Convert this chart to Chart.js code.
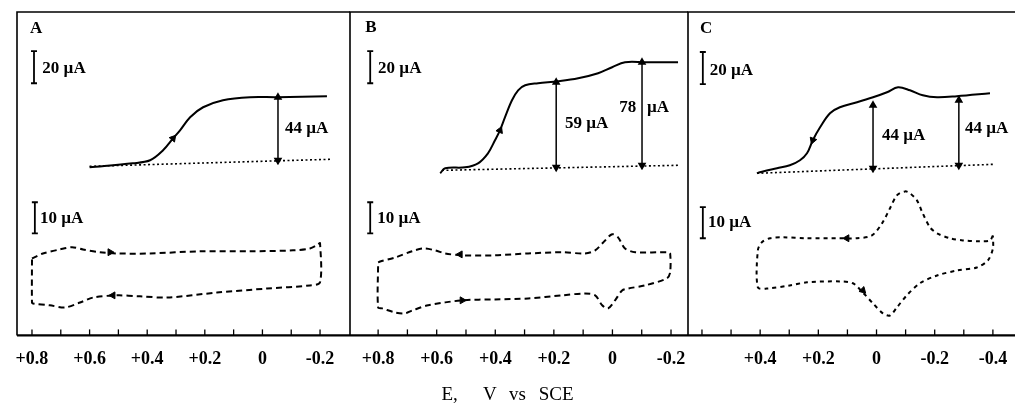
<!DOCTYPE html>
<html><head><meta charset="utf-8">
<script src="https://cdn.jsdelivr.net/npm/chart.js@4"></script>
<style>
html,body{margin:0;padding:0;background:#fff;}
#wrap{position:relative;width:1015px;height:419px;overflow:hidden;background:#fff;}
#wrap canvas{position:absolute;left:0;top:0;}
#xtitle{position:absolute;left:0;width:1015px;top:383px;text-align:center;font-family:"Liberation Serif",serif;font-size:19px;word-spacing:8px;color:#000;white-space:pre;}
</style></head>
<body>
<div id="wrap">
<canvas id="pa" width="1015" height="419"></canvas>
<canvas id="pb" width="1015" height="419"></canvas>
<canvas id="pc" width="1045" height="419"></canvas>
<div id="xtitle">E,  V vs SCE</div>
</div>
<script>
// ---------- Panel A ----------
const aWaveE = [0.60, 0.45, 0.39, 0.345, 0.31, 0.286, 0.251, 0.206, 0.137, 0.043, -0.051, -0.224];
const aWaveI = [0, 2.5, 4.4, 10.6, 18.1, 23.1, 31.3, 37.5, 41.9, 43.8, 43.8, 44.4];
const aBaseE = [0.60, -0.235];
const aBaseI = [0.6, 5];
const aCvE = [0.80, 0.762, 0.703, 0.661, 0.623, 0.564, 0.505, 0.39, 0.217, 0.043, -0.106, -0.165, -0.193, -0.20,
              -0.20, -0.165, -0.016, 0.158, 0.331, 0.425, 0.505, 0.588, 0.633, 0.685, 0.738, 0.797, 0.80, 0.80];
const aCvI = [4.5, 6.1, 7.4, 8.1, 7.4, 6.5, 6.1, 6.1, 6.8, 6.8, 7.1, 7.7, 9.0, 9.4,
              -3.2, -4.2, -5.2, -6.5, -8.1, -7.7, -7.4, -8.1, -9.7, -11.3, -10.6, -10.0, -9.7, 4.5];
const aHeightE = [-0.054];
const aHeightTop = [43.75];
const aHeightBot = [4.4];
const aWaveArrowE = [0.31], aWaveArrowI = [18.1], aWaveArrowRot = [40];
const aCvArrowE = [0.529, 0.519], aCvArrowI = [6.5, -7.4], aCvArrowRot = [90, 270];

// ---------- Panel B ----------
const bWaveE = [0.588, 0.571, 0.503, 0.459, 0.425, 0.401, 0.384, 0.367, 0.343, 0.322, 0.298, 0.254, 0.186, 0.117, 0.049, 0.001, -0.043, -0.111, -0.224];
const bWaveI = [-3.75, -0.6, 0, 2.5, 8.75, 16.9, 23.1, 31.25, 41.9, 48.1, 51.25, 52.5, 53.75, 55.6, 58.75, 62.5, 65.6, 65.6, 65.6];
const bBaseE = [0.582, -0.224];
const bBaseI = [-1.9, 1.25];
const bCvE = [0.800, 0.793, 0.742, 0.684, 0.646, 0.605, 0.571, 0.513, 0.401, 0.288, 0.172, 0.094, 0.059, 0.025, 0.001, -0.019, -0.043, -0.078, -0.190, -0.197,
              -0.197, -0.186, -0.111, -0.053, -0.033, -0.009, 0.015, 0.035, 0.059, 0.094, 0.172, 0.288, 0.401, 0.513, 0.629, 0.684, 0.708, 0.742, 0.786, 0.800, 0.800];
const bCvI = [3.2, 3.5, 4.8, 6.8, 7.7, 7.1, 6.1, 5.5, 5.5, 6.1, 6.5, 6.1, 7.1, 10.3, 12.3, 11.3, 7.7, 6.5, 6.5, 6.1,
              0, -1.9, -4.2, -5.2, -5.8, -9.0, -11.6, -10.6, -7.4, -6.8, -7.4, -8.4, -8.7, -9.0, -10.6, -12.3, -13.2, -12.9, -11.6, -11.3, 3.2];
const bHeightE = [0.192, -0.101];
const bHeightTop = [53.1, 65.6];
const bHeightBot = [0, 1.25];
const bWaveArrowE = [0.384], bWaveArrowI = [23.1], bWaveArrowRot = [23];
const bCvArrowE = [0.520, 0.513], bCvArrowI = [5.8, -9.0], bCvArrowRot = [270, 90];

// ---------- Panel C ----------
const cWaveE = [0.411, 0.401, 0.342, 0.298, 0.263, 0.239, 0.219, 0.194, 0.160, 0.126, 0.067, 0.012, -0.036, -0.074, -0.115, -0.159, -0.208, -0.276, -0.390];
const cWaveI = [-3.75, -3.1, -0.6, 1.25, 4.4, 8.75, 16.9, 25, 33.75, 37.5, 40.6, 43.75, 46.9, 50, 48.1, 45, 43.75, 44.4, 46.25];
const cBaseE = [0.411, -0.407];
const cBaseI = [-3.75, 1.9];
const cCvE = [-0.400, -0.390, -0.355, -0.297, -0.252, -0.208, -0.184, -0.159, -0.139, -0.115, -0.098, -0.070, -0.046, -0.019, 0.016, 0.067, 0.126, 0.239, 0.322, 0.366, 0.394, 0.408,
              0.408, 0.377, 0.298, 0.239, 0.126, 0.081, 0.047, 0.012, -0.022, -0.046, -0.070, -0.104, -0.149, -0.208, -0.276, -0.345, -0.383, -0.400, -0.400];
const cCvI = [11.9, 10.3, 10, 10.3, 11, 12.6, 14.5, 19, 23.2, 25.5, 26.1, 24.8, 20.6, 15.8, 11.9, 11, 11, 11, 11.3, 11, 9.7, 7.1,
              -4.8, -5.2, -4.2, -3.2, -2.9, -3.5, -6.5, -10, -13.2, -13.9, -11.3, -7.4, -3.5, -1, 0.6, 1.6, 3.9, 7.7, 11.9];
const cHeightE = [0.012, -0.283];
const cHeightTop = [38.75, 41.9];
const cHeightBot = [-0.6, 1.25];
const cWaveArrowE = [0.219], cWaveArrowI = [16.9], cWaveArrowRot = [200];
const cCvArrowE = [0.102, 0.047], cCvArrowI = [11, -5.8], cCvArrowRot = [270, 135];

// Scale bars (µA)
const waveBarUA = 20;
const cvBarUA = 10;

const SERIF = '"Liberation Serif", "Times New Roman", serif';
Chart.defaults.font.family = SERIF;
Chart.defaults.color = '#000';

function pts(xs, ys) { return xs.map((x, i) => ({ x: x, y: ys[i] })); }

const decor = {
  id: 'decor',
  afterDatasetsDraw(chart, args, opts) {
    const ctx = chart.ctx, ca = chart.chartArea, xs = chart.scales.x;
    ctx.save();
    ctx.strokeStyle = '#000';
    ctx.lineCap = 'butt';
    ctx.lineWidth = 1.6;
    ctx.beginPath();
    ctx.moveTo(ca.left, ca.bottom); ctx.lineTo(ca.left, ca.top); ctx.lineTo(ca.right, ca.top);
    ctx.stroke();
    ctx.lineWidth = 2.2;
    ctx.beginPath(); ctx.moveTo(ca.left, ca.bottom); ctx.lineTo(ca.right, ca.bottom); ctx.stroke();
    ctx.lineWidth = 1.3;
    xs.ticks.forEach(t => {
      const p = xs.getPixelForValue(t.value);
      if (p < ca.left + 4 || p > ca.right - 4) return;
      ctx.beginPath(); ctx.moveTo(p, ca.bottom); ctx.lineTo(p, ca.bottom - 6); ctx.stroke();
    });
    ctx.fillStyle = '#000';
    ctx.textBaseline = 'middle';
    (opts.texts || []).forEach(tx => {
      ctx.font = 'bold 17px ' + SERIF;
      ctx.textAlign = tx.align || 'left';
      ctx.fillText(tx.t, xs.getPixelForValue(tx.x), chart.scales[tx.axis].getPixelForValue(tx.y));
    });
    ctx.restore();
  }
};

function tickLabel(maxAbs) {
  return function (v) {
    const n = Math.round(v * 10);
    if (n % 2 !== 0) return '';
    if (Math.abs(n) > maxAbs * 10 + 0.01) return '';
    if (n === 0) return '0';
    const s = (n / 10).toFixed(1);
    return n > 0 ? '+' + s : s;
  };
}

function makePanel(id, p) {
  const datasets = [
    { data: pts(p.waveE, p.waveI), yAxisID: 'y', borderColor: '#000', borderWidth: 2, tension: 0.35, pointRadius: 0 },
    { data: pts(p.baseE, p.baseI), yAxisID: 'y', borderColor: '#000', borderWidth: 1.6, borderDash: [2, 2.5], pointRadius: 0 },
    { data: pts(p.cvE, p.cvI), yAxisID: 'y2', borderColor: '#000', borderWidth: 2, borderDash: p.cvDash, tension: 0.3, pointRadius: 0 },
    { data: [{ x: p.barE, y: p.barY0 }, { x: p.barE, y: p.barY0 + waveBarUA }], yAxisID: 'y', borderColor: '#000', borderWidth: 1.8,
      pointStyle: 'line', pointRadius: 3, pointBorderWidth: 1.8, pointBorderColor: '#000' },
    { data: [{ x: p.cvBarE, y: p.cvBarY0 }, { x: p.cvBarE, y: p.cvBarY0 + cvBarUA }], yAxisID: 'y2', borderColor: '#000', borderWidth: 1.8,
      pointStyle: 'line', pointRadius: 3, pointBorderWidth: 1.8, pointBorderColor: '#000' },
    { data: pts(p.waveArrowE, p.waveArrowI).map((d, i) => Object.assign(d, { r: p.waveArrowRot[i] })), yAxisID: 'y', showLine: false,
      pointStyle: 'triangle', pointRadius: 4, pointBackgroundColor: '#000', pointBorderColor: '#000', rotation: c => c.raw ? c.raw.r : 0 },
    { data: pts(p.cvArrowE, p.cvArrowI).map((d, i) => Object.assign(d, { r: p.cvArrowRot[i] })), yAxisID: 'y2', showLine: false,
      pointStyle: 'triangle', pointRadius: 4, pointBackgroundColor: '#000', pointBorderColor: '#000', rotation: c => c.raw ? c.raw.r : 0 }
  ];
  p.heightE.forEach((e, i) => {
    datasets.push({ data: [{ x: e, y: p.heightTop[i] }, { x: e, y: p.heightBot[i] }], yAxisID: 'y', borderColor: '#000', borderWidth: 1.5,
      pointStyle: 'triangle', pointRadius: 3.5, pointBackgroundColor: '#000', pointBorderColor: '#000',
      rotation: c => c.dataIndex === 0 ? 0 : 180 });
  });
  return new Chart(document.getElementById(id), {
    type: 'scatter',
    data: { datasets: datasets.map(d => Object.assign({ showLine: true, fill: false }, d)) },
    options: {
      responsive: false, animation: false, events: [],
      layout: { padding: { left: p.padL, right: p.padR, top: 12, bottom: 36 } },
      plugins: { legend: { display: false }, tooltip: { enabled: false }, decor: { texts: p.texts } },
      scales: {
        x: { type: 'linear', reverse: true, min: p.xmin, max: p.xmax,
             grid: { display: false, drawTicks: false }, border: { display: false },
             ticks: { stepSize: 0.1, includeBounds: false, autoSkip: false, maxRotation: 0, minRotation: 0,
                      padding: 13, color: '#000', font: { size: 18, weight: 'bold' }, callback: tickLabel(p.labelMax) } },
        y: { type: 'linear', display: false, min: -105, max: 97 },
        y2: { type: 'linear', display: false, min: -20.3, max: 83.9 }
      }
    },
    plugins: [decor]
  });
}

makePanel('pa', {
  waveE: aWaveE, waveI: aWaveI, baseE: aBaseE, baseI: aBaseI, cvE: aCvE, cvI: aCvI, cvDash: [6, 4],
  heightE: aHeightE, heightTop: aHeightTop, heightBot: aHeightBot,
  waveArrowE: aWaveArrowE, waveArrowI: aWaveArrowI, waveArrowRot: aWaveArrowRot,
  cvArrowE: aCvArrowE, cvArrowI: aCvArrowI, cvArrowRot: aCvArrowRot,
  barE: 0.793, barY0: 52.5, cvBarE: 0.790, cvBarY0: 12.6,
  xmin: -0.304, xmax: 0.852, padL: 17, padR: 665, labelMax: 0.8,
  texts: [
    { t: 'A', x: 0.807, y: 86.9, axis: 'y' },
    { t: '20 µA', x: 0.764, y: 61.9, axis: 'y' },
    { t: '10 µA', x: 0.772, y: 17.4, axis: 'y2' },
    { t: '44 µA', x: -0.078, y: 24.4, axis: 'y' }
  ]
});
makePanel('pb', {
  waveE: bWaveE, waveI: bWaveI, baseE: bBaseE, baseI: bBaseI, cvE: bCvE, cvI: bCvI, cvDash: [6, 4],
  heightE: bHeightE, heightTop: bHeightTop, heightBot: bHeightBot,
  waveArrowE: bWaveArrowE, waveArrowI: bWaveArrowI, waveArrowRot: bWaveArrowRot,
  cvArrowE: bCvArrowE, cvArrowI: bCvArrowI, cvArrowRot: bCvArrowRot,
  barE: 0.827, barY0: 52.5, cvBarE: 0.827, cvBarY0: 12.6,
  xmin: -0.258, xmax: 0.896, padL: 350, padR: 327, labelMax: 0.8,
  texts: [
    { t: 'B', x: 0.844, y: 87.5, axis: 'y' },
    { t: '20 µA', x: 0.800, y: 61.9, axis: 'y' },
    { t: '10 µA', x: 0.803, y: 17.4, axis: 'y2' },
    { t: '59 µA', x: 0.162, y: 27.5, axis: 'y' },
    { t: '78', x: -0.081, y: 37.5, axis: 'y', align: 'right' },
    { t: 'µA', x: -0.118, y: 37.5, axis: 'y' }
  ]
});
makePanel('pc', {
  waveE: cWaveE, waveI: cWaveI, baseE: cBaseE, baseI: cBaseI, cvE: cCvE, cvI: cCvI, cvDash: [4, 4],
  heightE: cHeightE, heightTop: cHeightTop, heightBot: cHeightBot,
  waveArrowE: cWaveArrowE, waveArrowI: cWaveArrowI, waveArrowRot: cWaveArrowRot,
  cvArrowE: cCvArrowE, cvArrowI: cCvArrowI, cvArrowRot: cCvArrowRot,
  barE: 0.597, barY0: 52, cvBarE: 0.597, cvBarY0: 11,
  xmin: -0.476, xmax: 0.648, padL: 688, padR: 30, labelMax: 0.4,
  texts: [
    { t: 'C', x: 0.607, y: 86.9, axis: 'y' },
    { t: '20 µA', x: 0.573, y: 60.6, axis: 'y' },
    { t: '10 µA', x: 0.579, y: 16.1, axis: 'y2' },
    { t: '44 µA', x: -0.019, y: 20, axis: 'y' },
    { t: '44 µA', x: -0.304, y: 24.4, axis: 'y' }
  ]
});
</script>
</body></html>
